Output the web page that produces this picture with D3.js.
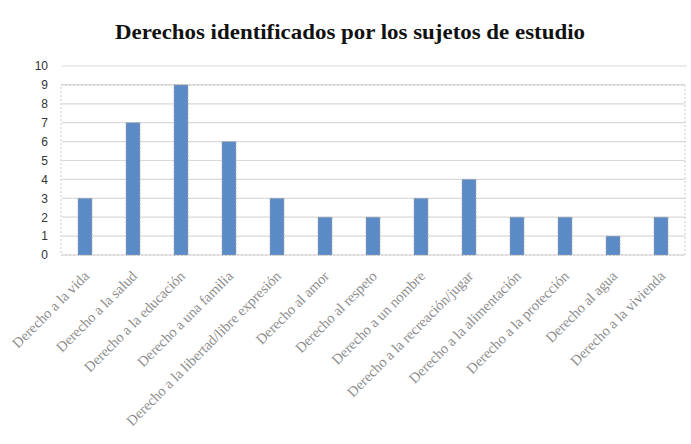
<!DOCTYPE html>
<html>
<head>
<meta charset="utf-8">
<script src="https://cdn.jsdelivr.net/npm/d3@7"></script>
<style>
  body { margin: 0; background: #fff; }
  svg { display: block; }
</style>
</head>
<body>
<svg width="691" height="444"></svg>
<script>
const categories = [
  "Derecho a la vida", "Derecho a la salud", "Derecho a la educación",
  "Derecho a una familia", "Derecho a la libertad/libre expresión",
  "Derecho al amor", "Derecho al respeto", "Derecho a un nombre",
  "Derecho a la recreación/jugar", "Derecho a la alimentación",
  "Derecho a la protección", "Derecho al agua", "Derecho a la vivienda"
];
const values = [3, 7, 9, 6, 3, 2, 2, 3, 4, 2, 2, 1, 2];
const yTicks = [0, 1, 2, 3, 4, 5, 6, 7, 8, 9, 10];
const title = "Derechos identificados por los sujetos de estudio";

const svg = d3.select("svg");
const margin = { left: 61, right: 6, top: 66, bottom: 189 };
const width = 691 - margin.left - margin.right;
const height = 444 - margin.top - margin.bottom;

const x = d3.scaleBand().domain(categories).range([0, width]).paddingInner(0.708).paddingOuter(0.354);
const y = d3.scaleLinear().domain([0, 10]).range([height, 0]);

svg.append("text")
  .attr("x", 350)
  .attr("y", 39)
  .attr("text-anchor", "middle")
  .attr("font-family", "Liberation Serif, Times New Roman, serif")
  .attr("font-weight", "bold")
  .attr("font-size", 21)
  .attr("textLength", 470)
  .attr("lengthAdjust", "spacingAndGlyphs")
  .attr("fill", "#111")
  .text(title);

const g = svg.append("g").attr("transform", `translate(${margin.left},${margin.top})`);

// gridlines
g.selectAll(".grid").data(yTicks).enter().append("line")
  .attr("x1", 1).attr("x2", d => d === 10 ? width + 2 : width)
  .attr("y1", d => y(d)).attr("y2", d => y(d))
  .attr("stroke", "#d9d9d9").attr("stroke-width", 1.2);

// plot area dashed border
g.append("rect")
  .attr("x", 0).attr("y", y(9))
  .attr("width", width).attr("height", y(0) - y(9))
  .attr("fill", "none")
  .attr("stroke", "#bbb").attr("stroke-dasharray", "2,2").attr("stroke-width", 0.8);

// y axis labels
const yAxis = d3.axisLeft(y).tickValues(yTicks).tickSize(0).tickPadding(13);
g.append("g").call(yAxis)
  .call(s => s.select(".domain").remove())
  .selectAll("text")
  .attr("font-family", "Liberation Sans, Arial, sans-serif")
  .attr("font-size", 12)
  .attr("fill", "#333");

// bars
g.selectAll(".bar").data(values).enter().append("rect")
  .attr("x", (d, i) => x(categories[i]))
  .attr("y", d => y(d))
  .attr("width", x.bandwidth())
  .attr("height", d => y(0) - y(d))
  .attr("fill", "#5b8bc6")
  .attr("stroke", "#a8a8a8")
  .attr("stroke-dasharray", "2,1.5")
  .attr("stroke-width", 0.8);

// x labels
g.selectAll(".xl").data(categories).enter().append("text")
  .attr("transform", d => `translate(${x(d) + x.bandwidth() / 2 + 5},${height + 22}) rotate(-45)`)
  .attr("text-anchor", "end")
  .attr("font-family", "Liberation Serif, Times New Roman, serif")
  .attr("font-size", 14.5)
  .attr("fill", "#8c8c8c")
  .text(d => d);
</script>
</body>
</html>
